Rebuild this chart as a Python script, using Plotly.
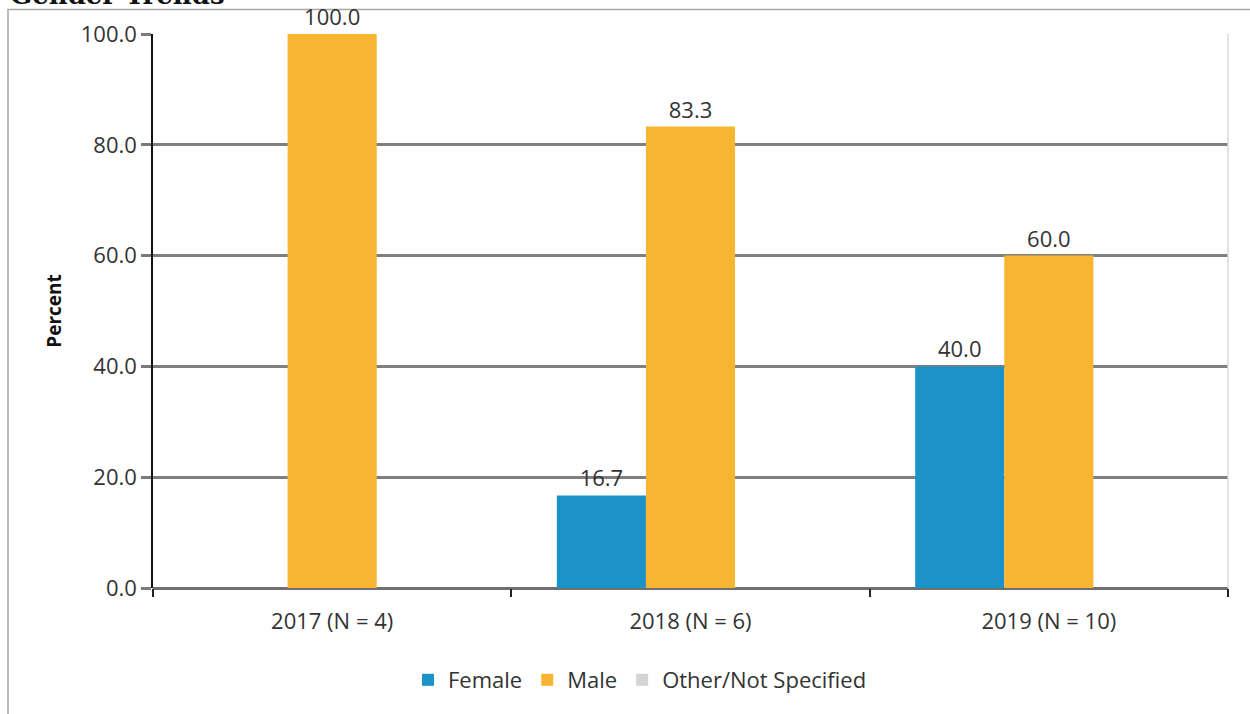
import plotly.graph_objects as go

categories = ["2017 (N = 4)", "2018 (N = 6)", "2019 (N = 10)"]
female = [0.0, 16.7, 40.0]
male = [100.0, 83.3, 60.0]
other = [0.0, 0.0, 0.0]
y_ticks = [0, 20, 40, 60, 80, 100]

W, H = 1250, 714
L, R, T, B = 153, 22, 34, 126
pw, ph = W - L - R, H - T - B
FONT = "Open Sans"


def px(x):
    return (x - L) / pw


def py(y):
    return (H - B - y) / ph


def labels(vals):
    return [f"{v:.1f}" if v != 0 else "" for v in vals]


fig = go.Figure()
for name, vals, col in [("Female", female, "#1b93c9"),
                        ("Male", male, "#f8b531"),
                        ("Other/Not Specified", other, "#d4d4d6")]:
    fig.add_trace(go.Bar(
        x=categories, y=vals, name=name, marker=dict(color=col, line=dict(width=0)),
        text=labels(vals), textposition="outside", cliponaxis=False,
        textfont=dict(family=FONT, size=22, color="#333333"),
    ))

fig.update_layout(
    width=W, height=H, margin=dict(l=L, r=R, t=T, b=B),
    paper_bgcolor="white", plot_bgcolor="white",
    barmode="group", bargap=0.254, bargroupgap=0,
    font=dict(family=FONT, size=22, color="#333333"),
    showlegend=True,
    legend=dict(orientation="h", x=px(640), xanchor="center", y=py(680), yanchor="middle",
                font=dict(family=FONT, size=22, color="#333333"),
                itemwidth=30, traceorder="normal", tracegroupgap=0),
    xaxis=dict(
        type="category", tickson="boundaries", ticks="outside", ticklen=8,
        tickcolor="#222222", tickwidth=1.5, showline=False, showgrid=False,
        tickfont=dict(family=FONT, size=22, color="#333333"),
        ticklabelstandoff=18,
    ),
    yaxis=dict(
        range=[0, 100], tickvals=y_ticks, tickformat=".1f",
        ticks="outside", ticklen=10, tickcolor="#7a7a7a", tickwidth=2.5,
        showline=True, linecolor="#111111", linewidth=1.5,
        showgrid=True, gridcolor="#7f7f7f", gridwidth=2.5,
        zeroline=True, zerolinecolor="#6f6f6f", zerolinewidth=2.5,
        tickfont=dict(family=FONT, size=22, color="#333333"),
        title=dict(text="<b>Percent</b>", font=dict(family=FONT, size=19, color="#111111"),
                   standoff=14),
    ),
    shapes=[
        dict(type="rect", xref="paper", yref="paper",
             x0=px(8), x1=px(1265), y0=py(730), y1=py(9.5),
             line=dict(color="#a6a6a6", width=1.5), layer="below"),
        dict(type="line", xref="paper", yref="paper",
             x0=1.0, x1=1.0, y0=0, y1=1,
             line=dict(color="#d8d8d8", width=1.5)),
    ],
    annotations=[
        dict(text="<b>Gender Trends</b>", xref="paper", yref="paper",
             x=px(8), y=py(-5), xanchor="left", yanchor="middle", showarrow=False,
             font=dict(family="DejaVu Serif", size=26, color="#111111")),
    ],
)

fig.write_html("out.html")
